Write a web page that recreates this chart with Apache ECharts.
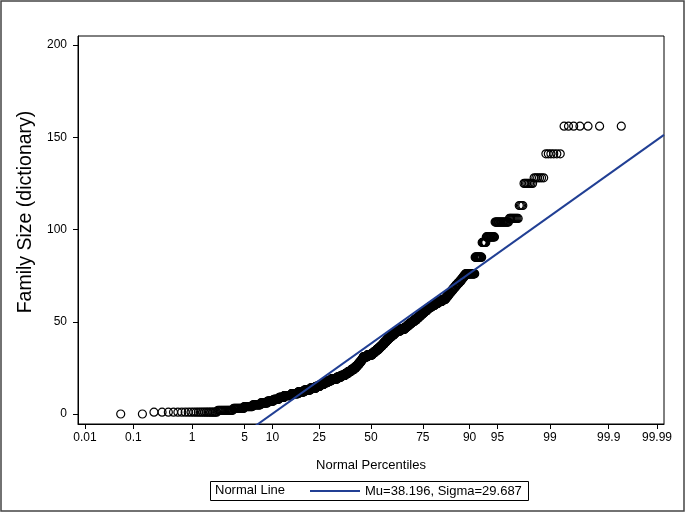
<!DOCTYPE html>
<html><head><meta charset="utf-8">
<script src="https://cdn.jsdelivr.net/npm/echarts@6/dist/echarts.min.js"></script>
<style>html,body{margin:0;padding:0;background:#fff}#c{width:685px;height:512px}</style>
</head><body><div id="c"></div>
<script>
const familySizeValues = [0,1,2,3,4,5,6,7,8,9,10,11,12,13,14,15,16,17,18,19,20,21,22,23,24,25,26,27,28,29,30,31,32,33,34,35,36,37,38,39,40,41,42,43,44,45,46,47,48,49,50,51,52,53,54,55,56,57,58,59,60,61,62,63,64,65,66,67,68,69,70,71,72,73,74,75,76,85,93,96,104,106,113,125,128,141,156];
const familySizeCounts = [2,23,15,14,14,15,15,15,14,15,23,24,23,24,24,19,17,17,20,30,21,22,15,16,15,12,10,9,9,7,7,23,27,13,12,13,11,10,10,10,10,11,12,12,11,22,23,12,11,12,12,12,10,9,10,9,10,9,12,13,13,14,13,5,5,5,5,5,5,5,5,5,5,4,4,4,24,15,8,15,19,10,4,7,6,6,7];
const percentileTicks = [0.01,0.1,1,5,10,25,50,75,90,95,99,99.9,99.99];
const yTicks = [0,50,100,150,200];
const normalMu = 38.196;
const normalSigma = 29.687;

function probit(p){
  const a=[-3.969683028665376e+01,2.209460984245205e+02,-2.759285104469687e+02,1.383577518672690e+02,-3.066479806614716e+01,2.506628277459239e+00];
  const b=[-5.447609879822406e+01,1.615858368580409e+02,-1.556989798598866e+02,6.680131188771972e+01,-1.328068155288572e+01];
  const c=[-7.784894002430293e-03,-3.223964580411365e-01,-2.400758277161838e+00,-2.549732539343734e+00,4.374664141464968e+00,2.938163982698783e+00];
  const d=[7.784695709041462e-03,3.224671290700398e-01,2.445134137142996e+00,3.754408661907416e+00];
  const pl=0.02425, ph=1-pl; let q,r;
  if(p<pl){q=Math.sqrt(-2*Math.log(p));return (((((c[0]*q+c[1])*q+c[2])*q+c[3])*q+c[4])*q+c[5])/((((d[0]*q+d[1])*q+d[2])*q+d[3])*q+1);}
  if(p<=ph){q=p-0.5;r=q*q;return (((((a[0]*r+a[1])*r+a[2])*r+a[3])*r+a[4])*r+a[5])*q/(((((b[0]*r+b[1])*r+b[2])*r+b[3])*r+b[4])*r+1);}
  q=Math.sqrt(-2*Math.log(1-p));return -(((((c[0]*q+c[1])*q+c[2])*q+c[3])*q+c[4])*q+c[5])/((((d[0]*q+d[1])*q+d[2])*q+d[3])*q+1);
}

const sorted=[];
familySizeValues.forEach((v,i)=>{for(let k=0;k<familySizeCounts[i];k++)sorted.push(v);});
const n=sorted.length;
const points=sorted.map((v,i)=>[probit((i+1-0.375)/(n+0.25)),v]);
const zTicks=percentileTicks.map(p=>probit(p/100));
const xMin=-3.81,xMax=3.81;
const lineData=[[xMin,normalMu+normalSigma*xMin],[xMax,normalMu+normalSigma*xMax]];
const font='"Liberation Sans", Arial, sans-serif';

const chart=echarts.init(document.getElementById('c'),null,{renderer:'canvas'});
chart.setOption({
  animation:false,
  backgroundColor:'#fff',
  grid:{left:78,right:21,top:36,bottom:88,containLabel:false,outerBoundsMode:'none',show:true,borderColor:'#000',borderWidth:1,backgroundColor:'transparent'},
  xAxis:{type:'value',min:xMin,max:xMax,
    name:'Normal Percentiles',nameLocation:'middle',nameGap:35,
    nameTextStyle:{fontFamily:font,fontSize:13,color:'#000'},
    axisLine:{show:true,onZero:false,lineStyle:{color:'#000',width:1}},
    axisTick:{show:true,customValues:zTicks,length:5,lineStyle:{color:'#000'}},
    axisLabel:{customValues:zTicks,margin:8,fontFamily:font,fontSize:12,color:'#000',
      formatter:(val)=>{let best=0;zTicks.forEach((z,i)=>{if(Math.abs(z-val)<Math.abs(zTicks[best]-val))best=i;});return String(percentileTicks[best]);}},
    splitLine:{show:false}},
  yAxis:{type:'value',min:-5.42,max:204.88,
    name:'Family Size (dictionary)',nameLocation:'middle',nameGap:41,
    nameTextStyle:{fontFamily:font,fontSize:19.5,color:'#000',padding:[0,0,0,36]},
    axisLine:{show:true,onZero:false,lineStyle:{color:'#000',width:1}},
    axisTick:{show:true,customValues:yTicks,length:5,lineStyle:{color:'#000'}},
    axisLabel:{customValues:yTicks,margin:11,fontFamily:font,fontSize:12,color:'#000'},
    splitLine:{show:false}},
  legend:{show:true,left:310,top:484,padding:0,itemWidth:50,itemHeight:14,
    data:[{name:'Mu=38.196, Sigma=29.687',icon:'path://M0,0L0.01,0L0.01,0.01L0,0.01Z M0,6L50,6L50,8L0,8Z M0,13.99L0.01,13.99L0.01,14L0,14Z'}],
    itemStyle:{color:'#213f94'},
    textStyle:{fontFamily:font,fontSize:13,color:'#000'}},
  graphic:[
    {type:'rect',shape:{x:1,y:1,width:683,height:510},style:{fill:'none',stroke:'#444',lineWidth:1.5},silent:true},
    {type:'rect',shape:{x:210.5,y:481.5,width:318,height:19},style:{fill:'none',stroke:'#000',lineWidth:1},silent:true},
    {type:'text',left:215,top:484,style:{text:'Normal Line',font:'13px "Liberation Sans", Arial, sans-serif',fill:'#000'},silent:true}
  ],
  series:[
    {type:'scatter',name:'Family Size',data:points,symbol:'circle',symbolSize:8,
     itemStyle:{color:'rgba(0,0,0,0)',borderColor:'#000',borderWidth:1.2,opacity:1},z:2,emphasis:{disabled:true}},
    {type:'line',name:'Mu=38.196, Sigma=29.687',data:lineData,symbol:'none',clip:true,
     lineStyle:{color:'#213f94',width:2},itemStyle:{color:'#213f94'},z:3}
  ]
});
</script>
</body></html>
